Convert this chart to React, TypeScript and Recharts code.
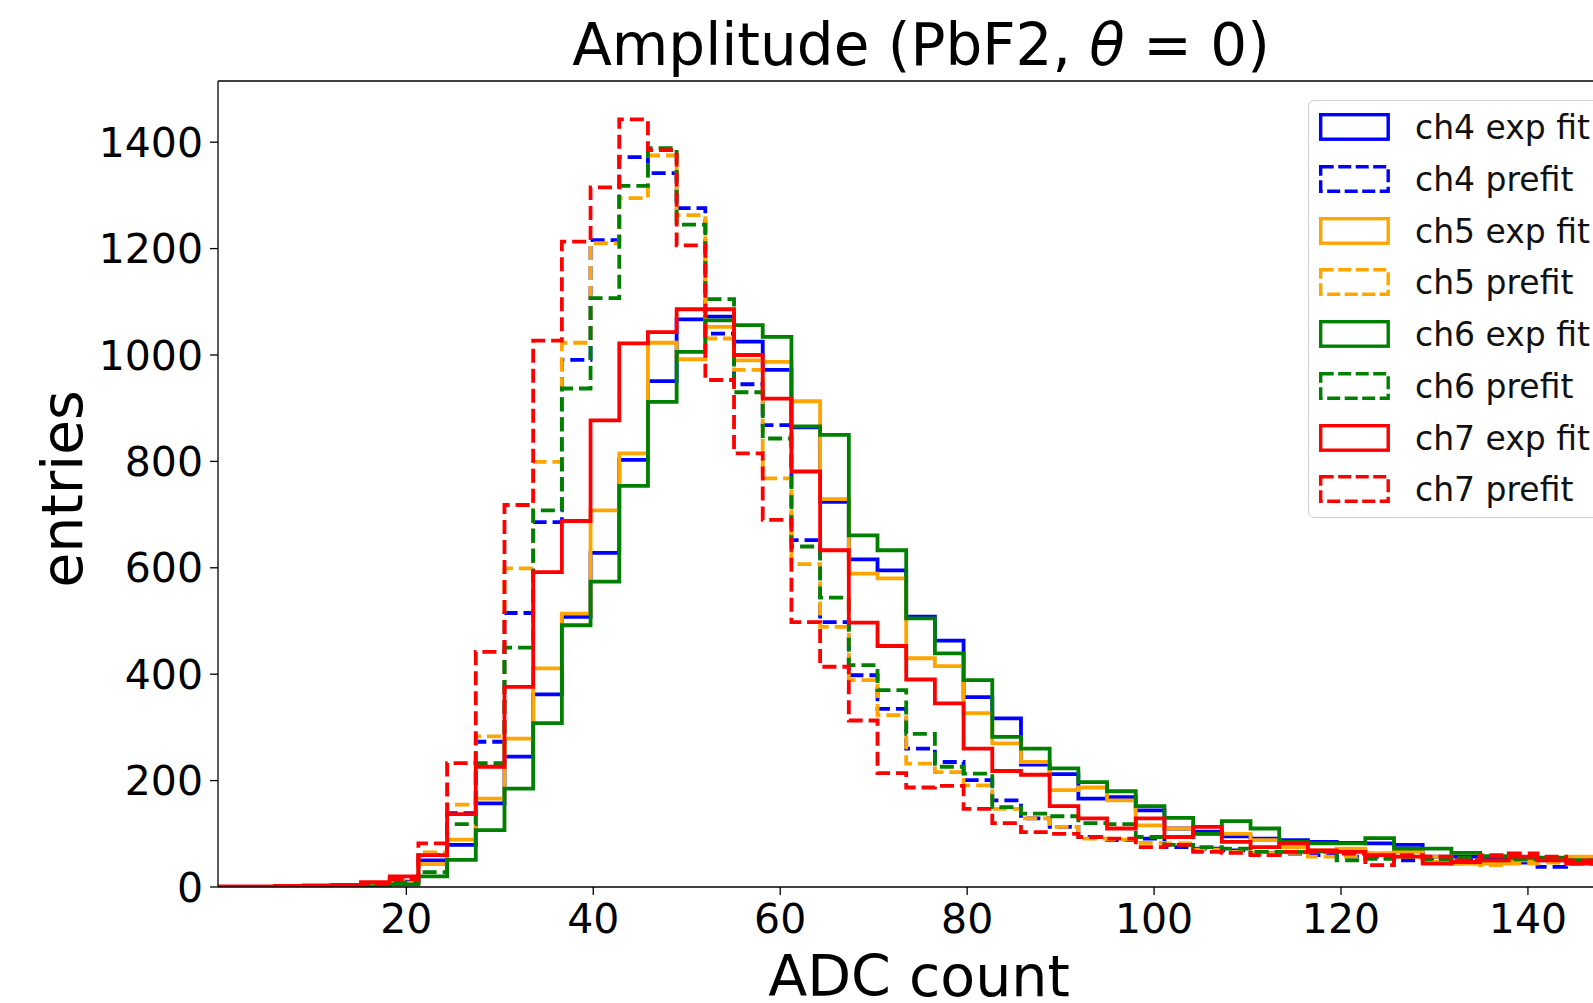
import React from 'react';
import { LineChart, Line, XAxis, YAxis, ReferenceLine } from 'recharts';

// bin edges of the histogram (ADC count)
const EDGES = [
  -0.2, 2.87, 5.94, 9.01, 12.08, 15.15, 18.22, 21.29, 24.36, 27.43, 30.5, 33.57, 36.64, 39.71,
  42.78, 45.85, 48.92, 51.99, 55.06, 58.13, 61.2, 64.27, 67.34, 70.41, 73.48, 76.55, 79.62,
  82.69, 85.76, 88.83, 91.9, 94.97, 98.04, 101.11, 104.18, 107.25, 110.32, 113.39, 116.46,
  119.53, 122.6, 125.67, 128.74, 131.81, 134.88, 137.95, 141.02, 144.09, 147.16, 150.23,
];

const CH4_FIT = [0, 0, 0, 0, 1, 3, 10, 50, 79, 157, 245, 362, 508, 628, 803, 951, 1067, 1072, 1025, 972, 864, 724, 616, 595, 508, 463, 357, 317, 230, 212, 166, 169, 144, 110, 104, 95, 91, 88, 85, 83, 82, 79, 57, 57, 55, 52, 50, 48, 46];
const CH4_PRE = [0, 0, 0, 0, 1, 3, 12, 60, 139, 273, 515, 686, 991, 1216, 1372, 1342, 1276, 1040, 945, 868, 652, 498, 398, 335, 260, 235, 201, 163, 129, 113, 94, 88, 91, 75, 72, 69, 63, 63, 60, 57, 57, 50, 52, 50, 48, 46, 38, 44, 44];
const CH5_FIT = [0, 0, 0, 0, 1, 2, 8, 43, 89, 166, 279, 411, 514, 708, 815, 1023, 992, 1053, 990, 987, 913, 729, 589, 580, 430, 415, 327, 270, 235, 182, 187, 163, 116, 110, 100, 100, 88, 75, 69, 72, 63, 66, 57, 44, 44, 50, 53, 57, 50];
const CH5_PRE = [0, 0, 0, 0, 1, 3, 12, 65, 155, 283, 599, 799, 1023, 1210, 1295, 1375, 1263, 1031, 972, 768, 607, 489, 389, 323, 232, 216, 191, 147, 129, 113, 91, 89, 83, 82, 70, 66, 63, 64, 57, 57, 63, 57, 47, 44, 41, 44, 46, 48, 46];
const CH6_FIT = [0, 0, 0, 0, 0, 1, 5, 20, 51, 107, 185, 308, 492, 574, 754, 912, 1006, 1065, 1056, 1034, 866, 850, 661, 633, 505, 439, 389, 282, 260, 223, 197, 180, 152, 130, 100, 124, 110, 85, 82, 82, 92, 72, 72, 64, 58, 55, 52, 50, 48];
const CH6_PRE = [0, 0, 0, 0, 0, 2, 8, 28, 118, 233, 450, 708, 937, 1107, 1318, 1389, 1245, 1105, 930, 843, 640, 544, 417, 370, 288, 226, 213, 150, 138, 133, 120, 118, 94, 79, 75, 72, 66, 66, 67, 50, 53, 57, 52, 55, 50, 52, 55, 50, 48];
const CH7_FIT = [1, 1, 2, 3, 4, 9, 20, 60, 137, 226, 376, 592, 688, 877, 1022, 1043, 1086, 1086, 1000, 918, 781, 633, 497, 453, 390, 345, 260, 218, 211, 152, 129, 110, 129, 94, 113, 85, 75, 82, 69, 66, 60, 57, 44, 47, 50, 57, 50, 44, 42];
const CH7_PRE = [0, 0, 0, 1, 2, 5, 15, 82, 233, 442, 718, 1027, 1213, 1315, 1443, 1385, 1206, 953, 815, 690, 498, 414, 313, 214, 187, 190, 147, 120, 103, 100, 94, 91, 75, 79, 66, 64, 60, 66, 66, 63, 41, 60, 57, 50, 60, 63, 57, 50, 48];

const X_TICKS = [20, 40, 60, 80, 100, 120, 140];
const Y_TICKS = [0, 200, 400, 600, 800, 1000, 1200, 1400];

const SERIES = [
  { key: 'ch4fit', name: 'ch4 exp fit', color: '#0000ff', dashed: false, values: CH4_FIT },
  { key: 'ch4pre', name: 'ch4 prefit', color: '#0000ff', dashed: true, values: CH4_PRE },
  { key: 'ch5fit', name: 'ch5 exp fit', color: '#ffa500', dashed: false, values: CH5_FIT },
  { key: 'ch5pre', name: 'ch5 prefit', color: '#ffa500', dashed: true, values: CH5_PRE },
  { key: 'ch6fit', name: 'ch6 exp fit', color: '#008000', dashed: false, values: CH6_FIT },
  { key: 'ch6pre', name: 'ch6 prefit', color: '#008000', dashed: true, values: CH6_PRE },
  { key: 'ch7fit', name: 'ch7 exp fit', color: '#ff0000', dashed: false, values: CH7_FIT },
  { key: 'ch7pre', name: 'ch7 prefit', color: '#ff0000', dashed: true, values: CH7_PRE },
];

// one row per bin edge; the last edge repeats the last bin so the step closes
const data = EDGES.map((x, i) => {
  const row: any = { x };
  SERIES.forEach((s) => {
    row[s.key] = s.values[Math.min(i, s.values.length - 1)];
  });
  return row;
});

const FONT = '"DejaVu Sans", sans-serif';
const DASH = '14 6';

function Legend() {
  return (
    <div
      style={{
        position: 'absolute',
        left: 1308,
        top: 100,
        width: 330,
        height: 418,
        boxSizing: 'border-box',
        border: '1.5px solid #d0d0d0',
        borderRadius: 6,
        background: 'rgba(255,255,255,0.8)',
        fontFamily: FONT,
      }}
    >
      {SERIES.map((s, i) => (
        <div
          key={s.key}
          style={{ position: 'absolute', left: 0, top: 1 + i * 51.7, height: 51.7, display: 'flex', alignItems: 'center' }}
        >
          <svg width={72} height={29} style={{ marginLeft: 10 }}>
            <rect
              x={1.7}
              y={1.7}
              width={67.5}
              height={24.5}
              fill="none"
              stroke={s.color}
              strokeWidth={3.4}
              strokeDasharray={s.dashed ? '13 4.5' : undefined}
            />
          </svg>
          <span style={{ marginLeft: 24, fontSize: 33, color: '#111', whiteSpace: 'nowrap' }}>{s.name}</span>
        </div>
      ))}
    </div>
  );
}

export default function App() {
  return (
    <div
      style={{
        position: 'absolute',
        left: 0,
        top: 0,
        width: 1593,
        height: 1003,
        overflow: 'hidden',
        background: '#fff',
        fontFamily: FONT,
      }}
    >
      <LineChart width={1700} height={1003} data={data} margin={{ top: 81, right: 80, bottom: 0, left: 18 }}>
        <XAxis
          dataKey="x"
          type="number"
          domain={[-0.15, 149.85]}
          allowDataOverflow
          ticks={X_TICKS}
          height={116}
          tickSize={8}
          tickMargin={9}
          stroke="#000"
          axisLine={{ stroke: '#000', strokeWidth: 1.3 }}
          tickLine={{ stroke: '#000', strokeWidth: 1.3 }}
          tick={{ fontSize: 41, fill: '#000', fontFamily: FONT }}
        />
        <YAxis
          type="number"
          domain={[0, 1515]}
          allowDataOverflow
          ticks={Y_TICKS}
          width={200}
          tickSize={8}
          tickMargin={7}
          stroke="#000"
          axisLine={{ stroke: '#000', strokeWidth: 1.3 }}
          tickLine={{ stroke: '#000', strokeWidth: 1.3 }}
          tick={{ fontSize: 41, fill: '#000', fontFamily: FONT }}
        />
        <ReferenceLine y={1515} stroke="#000" strokeWidth={1.3} />
        {SERIES.map((s) => (
          <Line
            key={s.key}
            dataKey={s.key}
            name={s.name}
            type="stepAfter"
            stroke={s.color}
            strokeWidth={3.8}
            strokeDasharray={s.dashed ? DASH : undefined}
            dot={false}
            activeDot={false}
            isAnimationActive={false}
          />
        ))}
      </LineChart>
      <svg
        width={1593}
        height={1003}
        style={{ position: 'absolute', left: 0, top: 0, pointerEvents: 'none' }}
        fontFamily={FONT}
      >
        <text x={921} y={65} textAnchor="middle" fontSize={58} fill="#000">
          Amplitude (PbF2, <tspan fontStyle="italic">θ</tspan> = 0)
        </text>
        <text x={919} y={996} textAnchor="middle" fontSize={57} fill="#000">
          ADC count
        </text>
        <text x={82} y={489} textAnchor="middle" fontSize={57} fill="#000" transform="rotate(-90, 82, 489)">
          entries
        </text>
      </svg>
      <Legend />
    </div>
  );
}
